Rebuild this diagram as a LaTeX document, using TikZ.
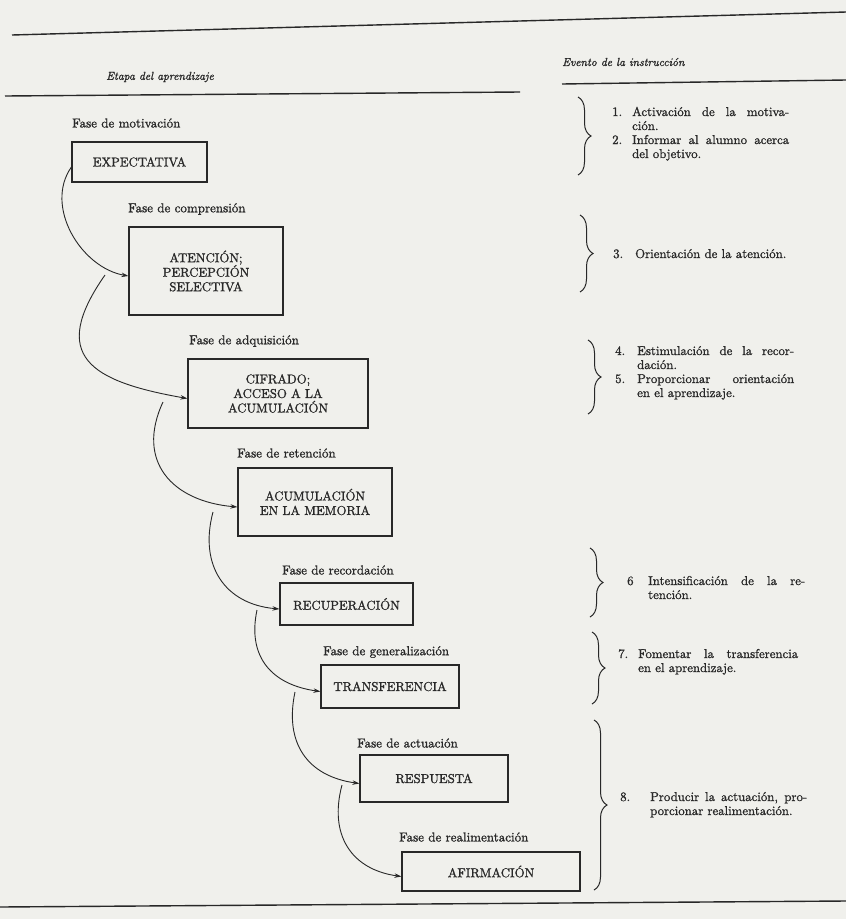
\documentclass[tikz,border=0pt]{standalone}
\usepackage{fontspec}
\setmainfont{lmroman10-regular.otf}[ItalicFont=lmroman10-italic.otf, FakeBold=1.2]
\usetikzlibrary{arrows.meta,decorations.pathreplacing}

\definecolor{papel}{RGB}{240,240,236}
\definecolor{tinta}{RGB}{40,40,40}

\tikzset{
  caja/.style={draw=tinta, line width=1.2pt, text=tinta, align=center,
    font=\fontsize{12.8}{14.5}\selectfont},
  fase/.style={anchor=west, inner sep=0pt, text=tinta,
    font=\fontsize{13}{14}\selectfont},
  cabecera/.style={anchor=west, inner sep=0pt, text=tinta,
    font=\fontsize{11.5}{13}\selectfont\itshape},
  evento/.style={anchor=base west, inner sep=0pt, text=tinta,
    font=\fontsize{12.8}{14}\selectfont},
  flecha/.style={draw=tinta, line width=0.9pt, -{Stealth[length=7pt,width=4.5pt]}},
  llave/.style={draw=tinta, line width=1pt, decorate,
    decoration={brace, amplitude=13pt}},
  regla/.style={draw=tinta, line width=1.4pt}
}

% renglon justificado de la columna derecha
\newcommand{\jl}[1]{\makebox[157pt][s]{#1}}

\begin{document}
\begin{tikzpicture}[x=1pt,y=1pt]
    % papel
    \fill[papel] (0,0) rectangle (846,-919);
    \useasboundingbox (0,0) rectangle (846,-919);

    % reglas y cabeceras
    \draw[regla] (12,-35) -- (846,-12);
    \node[cabecera] (etapa) at (106,-77) {Etapa del aprendizaje};
    \draw[regla] (5,-96) -- (520,-92);
    \node[cabecera] (evento) at (562,-62) {Evento de la instrucción};
    \draw[regla] (562,-84) -- (846,-80);
    \draw[regla] (0,-907) -- (846,-901);

    % etapas
    \node[caja, minimum width=135, minimum height=40] (expect) at (139.5,-162) {EXPECTATIVA};
    \node[caja, minimum width=154, minimum height=88] (atencion) at (206,-271) {ATENCIÓN;\\PERCEPCIÓN\\SELECTIVA};
    \node[caja, minimum width=180, minimum height=69] (cifrado) at (278,-393.5) {CIFRADO;\\ACCESO A LA\\ACUMULACIÓN};
    \node[caja, minimum width=154, minimum height=68] (acumul) at (315,-502) {ACUMULACIÓN\\EN LA MEMORIA};
    \node[caja, minimum width=133, minimum height=42] (recup) at (346.5,-604) {RECUPERACIÓN};
    \node[caja, minimum width=138, minimum height=43] (transf) at (390,-686.5) {TRANSFERENCIA};
    \node[caja, minimum width=148, minimum height=47] (resp) at (434,-778.5) {RESPUESTA};
    \node[caja, minimum width=178, minimum height=39] (afirm) at (491,-871.5) {AFIRMACIÓN};

    % fases
    \node[fase] (fmot) at (72,-123) {Fase de motivación};
    \node[fase] (fcomp) at (128,-209) {Fase de comprensión};
    \node[fase] (fadq) at (189,-341) {Fase de adquisición};
    \node[fase] (fret) at (237,-453) {Fase de retención};
    \node[fase] (frec) at (282,-570) {Fase de recordación};
    \node[fase] (fgen) at (323,-652) {Fase de generalización};
    \node[fase] (fact) at (357,-743) {Fase de actuación};
    \node[fase] (freal) at (399,-837) {Fase de realimentación};

    % flechas
    \coordinate (s2) at (105,-275);
    \coordinate (s3) at (163,-402);
    \coordinate (s4) at (213,-512);
    \coordinate (s5) at (257,-610);
    \coordinate (s6) at (295,-692);
    \coordinate (s7) at (342,-785);
    \draw[flecha] ([yshift=-5pt]expect.west) to[out=235, in=170] ([yshift=-5pt]atencion.west);
    \draw[flecha] (s2) to[out=235, in=170, looseness=1.7] ([yshift=-5pt]cifrado.west);
    \draw[flecha] (s3) to[out=245, in=175, looseness=1.3] ([yshift=-5pt]acumul.west);
    \draw[flecha] (s4) to[out=255, in=175, looseness=1.2] ([yshift=-5pt]recup.west);
    \draw[flecha] (s5) to[out=258, in=172, looseness=1.2] ([yshift=-5pt]transf.west);
    \draw[flecha] (s6) to[out=258, in=172, looseness=1.2] ([yshift=-5pt]resp.west);
    \draw[flecha] (s7) to[out=255, in=172, looseness=1.2] ([yshift=-5pt]afirm.west);

    % llaves
    \draw[llave] (578,-97) -- (578,-175);
    \draw[llave] (580,-215) -- (580,-292);
    \draw[llave] (588,-340) -- (588,-414);
    \draw[llave] (590,-548) -- (590,-617);
    \draw[llave] (592,-632) -- (592,-704);
    \draw[llave] (594,-720) -- (594,-890);

    % eventos de la instruccion
    \node[evento] (ev1) at (612,-116) {\begin{tabular}[t]{@{}p{20pt}@{}l@{}}
      1. & \jl{Activación de la motiva-}\\ & ción.\\
      2. & \jl{Informar al alumno acerca}\\ & del objetivo.\end{tabular}};
    \node[evento] (ev2) at (613,-258) {\begin{tabular}[t]{@{}p{22pt}@{}l@{}}
      3. & Orientación de la atención.\end{tabular}};
    \node[evento] (ev3) at (615,-355) {\begin{tabular}[t]{@{}p{22pt}@{}l@{}}
      4. & \jl{Estimulación de la recor-}\\ & dación.\\
      5. & \jl{Proporcionar orientación}\\ & en el aprendizaje.\end{tabular}};
    \node[evento] (ev4) at (627,-585) {\begin{tabular}[t]{@{}p{21pt}@{}l@{}}
      6 & \jl{Intensificación de la re-}\\ & tención.\end{tabular}};
    \node[evento] (ev5) at (618,-658) {\begin{tabular}[t]{@{}p{20pt}@{}l@{}}
      7. & \makebox[160pt][s]{Fomentar la transferencia}\\ & en el aprendizaje.\end{tabular}};
    \node[evento] (ev6) at (620,-801) {\begin{tabular}[t]{@{}p{30pt}@{}l@{}}
      8. & \jl{Producir la actuación, pro-}\\ & porcionar realimentación.\end{tabular}};
\end{tikzpicture}
\end{document}
